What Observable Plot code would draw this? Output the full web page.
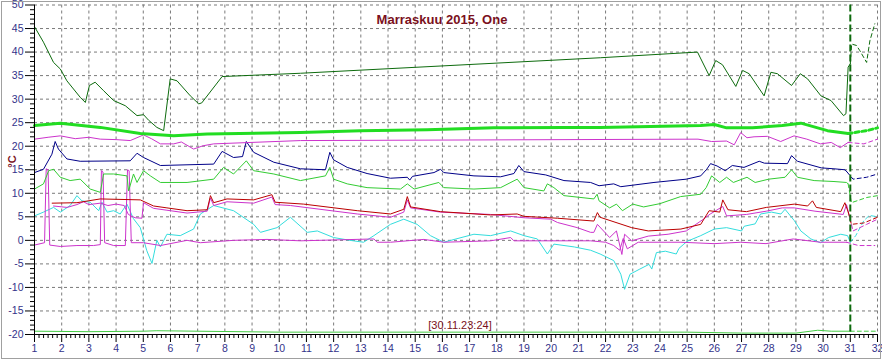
<!DOCTYPE html>
<html><head><meta charset="utf-8">
<script src="https://cdn.jsdelivr.net/npm/d3@7"></script>
<script src="https://cdn.jsdelivr.net/npm/@observablehq/plot@0.6"></script>
<style>
body{margin:0;background:#fff}
#chart svg{display:block;outline:1px solid #a0a0a0;outline-offset:-2px;background:#fff}
</style>
</head><body><div id="chart"></div>
<script>
const title = "Marraskuu 2015, One";
const stamp = "[30.11.23:24]";
const yLabel = "°C";
const xTicks = d3.range(1, 33);
const yTicks = d3.range(-20, 51, 5);
const nowDay = 31;

const darkGreen = [[1,45.4],[1.33,42.1],[1.7,37.8],[1.95,36.4],[2.19,33.9],[2.68,30.4],[2.87,29.3],[3.02,32.9],[3.23,33.6],[3.54,31.8],[3.91,29.7],[4.34,28.6],[4.77,26.5],[5.01,26.7],[5.2,25.5],[5.5,24.0],[5.75,23.3],[5.99,34.3],[6.24,33.9],[6.73,30.7],[7.04,29.0],[7.15,29.2],[7.9,34.8],[10.78,35.5],[21.82,38.8],[25.38,40.0],[25.81,35.0],[26.05,38.2],[26.3,37.3],[26.79,32.7],[27.04,36.1],[27.28,35.4],[27.83,30.7],[28.08,35.7],[28.32,35.4],[28.84,32.9],[29.16,35.4],[29.43,34.3],[29.92,30.7],[30.29,29.7],[30.75,26.5],[30.84,26.9],[30.92,36.8],[31.0,37.5],[31.05,41.7],[31.23,41.4],[31.35,40.3],[31.6,37.8],[31.72,42.4],[31.9,46.0]];
const brightGreen = [[1,24.4],[1.95,24.9],[3.42,24.0],[4.89,22.7],[6.12,22.2],[7.35,22.6],[10.78,22.9],[12.99,23.3],[15.44,23.5],[17.89,23.9],[20.47,24.0],[21.8,24.0],[25.5,24.4],[26.0,24.6],[26.45,23.9],[27.4,23.9],[28.5,24.4],[29.18,24.9],[30.16,23.3],[30.92,22.7],[31.6,23.3],[32,23.9]];
const magentaTop = [[1,21.5],[1.5,21.9],[1.95,22.2],[2.5,21.6],[3.0,21.9],[3.42,21.5],[4.0,21.4],[4.52,21.2],[5.01,22.4],[5.3,21.6],[5.63,20.5],[6.12,20.5],[6.4,20.9],[6.85,19.4],[7.2,20.1],[7.59,20.5],[10.78,21.2],[25.4,21.5],[25.9,21.0],[26.45,21.1],[26.73,20.3],[26.97,22.9],[27.2,21.8],[27.46,22.0],[27.95,22.1],[28.44,21.0],[28.93,22.2],[29.4,21.5],[29.9,20.5],[30.3,20.8],[30.63,19.7],[30.92,20.8],[31.5,20.5],[32,21.5]];
const navy = [[1,14.4],[1.33,15.1],[1.64,18.3],[1.76,21.0],[1.88,19.4],[2.19,17.3],[2.68,16.8],[4.52,16.9],[4.77,18.5],[5.01,17.6],[5.63,15.9],[7.59,16.2],[7.9,18.9],[8.32,17.6],[8.65,17.8],[8.79,21.0],[9.06,18.7],[9.8,16.6],[10.78,15.2],[11.7,15.0],[11.86,18.7],[12.0,17.1],[12.5,15.5],[13.23,14.2],[14.09,13.2],[14.71,13.4],[14.8,12.8],[14.9,13.6],[15.69,14.4],[15.93,15.1],[16.05,14.4],[17.16,13.7],[18.14,13.5],[18.63,14.2],[18.81,15.9],[19.0,14.6],[19.8,13.9],[20.47,12.7],[21.45,12.3],[21.76,11.6],[22.3,12.0],[22.56,11.4],[23.78,12.3],[24.97,13.0],[25.5,13.7],[25.72,15.1],[25.86,16.3],[26.1,15.8],[26.4,14.8],[26.66,15.9],[27.09,15.5],[27.65,16.8],[27.84,16.4],[28.69,16.3],[28.84,18.0],[29.06,16.8],[29.93,15.4],[30.4,15.2],[30.8,15.0],[30.87,14.6],[31.1,13.0],[31.6,13.4],[32,14.1]];
const lightGreen = [[1,10.9],[1.33,12.0],[1.52,14.8],[1.7,15.1],[1.95,13.4],[2.31,12.7],[2.68,13.0],[3.05,10.9],[3.42,10.2],[3.54,14.1],[3.91,14.1],[4.4,13.7],[4.46,10.5],[4.64,14.1],[4.77,12.3],[5.01,14.8],[5.26,13.7],[5.63,12.3],[6.61,12.3],[7.59,13.0],[7.95,15.5],[8.32,14.1],[8.79,16.9],[9.06,14.8],[9.8,14.1],[10.78,12.7],[11.7,13.7],[11.86,15.5],[12.0,13.0],[12.5,12.0],[13.23,11.2],[14.46,10.9],[14.71,12.0],[14.96,10.9],[15.87,12.3],[16.05,11.2],[17.16,10.9],[18.14,11.2],[18.75,13.0],[19.0,11.2],[19.73,10.5],[19.86,12.0],[20.1,11.2],[20.47,9.5],[21.57,8.8],[21.69,9.8],[21.76,8.4],[22.15,6.9],[22.4,7.7],[22.62,6.3],[23.0,7.7],[23.4,7.1],[24.0,7.8],[24.76,9.3],[25.5,9.8],[25.7,11.2],[25.9,13.7],[26.2,12.3],[26.45,13.4],[26.7,12.3],[27.2,13.4],[27.5,12.3],[28.0,13.0],[28.6,13.4],[28.84,15.0],[29.06,13.4],[29.67,12.7],[30.4,12.5],[30.86,12.3],[30.92,12.0],[31.04,8.0],[31.6,9.1],[32,9.5]];
const red = [[1.65,7.9],[2.56,8.0],[3.42,8.8],[4.89,8.6],[5.38,7.3],[5.87,6.9],[6.61,6.3],[7.35,6.5],[7.47,9.5],[7.59,8.0],[8.08,8.8],[9.06,8.6],[9.73,9.7],[9.85,8.1],[10.9,7.7],[12.87,6.3],[14.09,5.6],[14.58,6.6],[14.71,9.3],[14.83,7.1],[15.93,6.1],[17.77,5.4],[18.75,5.6],[19.0,5.1],[20.23,4.7],[21.57,4.1],[21.7,5.9],[21.8,4.9],[22.96,2.7],[23.57,2.0],[24.77,2.4],[25.5,3.4],[25.69,5.2],[25.81,6.3],[26.2,6.0],[26.31,8.6],[26.5,6.5],[27.18,6.1],[27.91,7.0],[28.94,7.7],[29.43,7.3],[29.61,8.4],[29.75,7.0],[30.65,6.1],[30.8,8.0],[30.93,5.9],[31.04,3.4],[31.5,3.7],[32,4.9]];
const magentaMid = [[1.7,7.3],[2.2,7.0],[2.56,7.6],[2.8,8.2],[3.0,7.6],[3.42,7.9],[3.7,7.4],[4.0,7.7],[4.3,7.4],[4.45,5.5],[4.7,4.8],[4.95,4.7],[5.01,8.0],[5.38,6.8],[5.87,6.4],[6.61,5.8],[7.35,6.2],[7.47,9.0],[7.59,7.4],[8.08,8.2],[9.06,7.9],[9.73,9.2],[9.85,7.6],[10.41,7.4],[12.87,5.6],[14.09,4.9],[14.58,6.0],[14.71,8.6],[14.83,6.9],[15.93,6.0],[17.77,5.5],[19.0,4.8],[19.99,4.5],[20.23,3.8],[20.96,2.7],[21.45,1.7],[21.57,1.7],[21.7,3.4],[22.15,0.6],[22.4,2.0],[22.6,-3.0],[22.7,1.3],[22.96,-0.1],[23.57,0.9],[24.3,1.3],[24.97,2.0],[25.6,4.5],[25.85,5.6],[26.31,7.2],[26.45,5.2],[27.18,5.5],[27.91,6.2],[28.5,6.9],[28.94,6.9],[29.7,6.2],[30.74,5.5],[30.86,7.6],[30.98,4.8],[31.1,2.0],[31.6,3.4],[32,4.5]];
const magentaLow = [[1,-1.0],[1.37,-0.5],[1.43,15.2],[1.5,15.0],[1.56,-1.0],[1.95,-1.3],[2.56,-1.1],[3.17,-1.1],[3.42,-0.9],[3.46,14.8],[3.52,14.5],[3.58,-0.5],[3.91,-1.1],[4.34,-1.1],[4.42,15.0],[4.48,14.8],[4.56,-0.5],[5.01,-0.5],[5.63,-1.1],[6.61,0.0],[7.1,-0.5],[8.32,0.0],[9.55,0.2],[10.78,-0.1],[13.48,0.3],[13.6,-0.4],[14.09,-0.4],[15.32,0.2],[16.05,-0.4],[17.77,-0.1],[18.51,0.6],[18.63,-0.1],[20.23,-0.1],[21.45,-0.1],[22.0,-0.4],[22.3,-1.1],[22.52,-2.1],[22.65,0.4],[22.8,-1.8],[23.2,-0.4],[24.77,-0.4],[25.99,-0.7],[26.97,-0.4],[27.9,-0.7],[28.9,0.3],[29.9,-0.4],[30.86,-0.4],[31.3,-1.1],[31.9,-1.1]];
const cyan = [[1,5.2],[1.33,6.0],[1.7,7.0],[1.95,6.0],[2.31,7.4],[2.56,9.5],[2.74,8.4],[3.05,8.1],[3.36,6.3],[3.48,8.1],[3.67,6.0],[3.91,6.3],[4.15,5.6],[4.4,7.7],[4.64,4.6],[4.89,2.7],[5.13,-2.2],[5.32,-4.9],[5.5,0.0],[5.63,-1.4],[5.87,1.3],[6.36,1.0],[6.85,2.4],[7.1,5.6],[7.59,7.4],[8.32,6.3],[9.06,3.4],[9.31,1.7],[9.92,2.7],[10.41,4.9],[11.03,1.7],[11.4,2.0],[12.0,0.6],[12.6,0.0],[13.1,-0.4],[13.48,1.0],[14.09,3.4],[14.58,4.5],[15.07,3.4],[15.56,1.0],[16.05,-0.4],[16.5,0.3],[17.16,1.3],[17.77,1.0],[18.51,2.0],[19.0,1.0],[19.49,0.3],[19.86,-2.9],[20.1,-0.8],[20.85,-1.4],[21.45,-2.1],[21.8,-2.9],[22.3,-4.3],[22.56,-7.2],[22.7,-10.4],[22.9,-7.2],[23.26,-6.1],[23.6,-5.1],[23.7,-6.1],[23.87,-2.6],[24.2,-2.3],[24.6,-2.9],[24.7,-1.7],[24.88,-0.8],[25.0,-0.2],[25.5,1.0],[26.0,2.4],[26.45,2.7],[27.0,2.0],[27.1,3.0],[27.5,3.5],[27.7,5.6],[28.1,6.0],[28.45,5.6],[28.6,6.6],[28.94,4.2],[29.18,2.0],[29.55,0.3],[29.9,-0.5],[30.2,0.6],[30.65,1.3],[30.9,1.0],[31.0,-0.4],[31.2,1.0],[31.5,4.2],[31.7,5.3],[32,5.0]];
const bottomGreen = [[1,-19.3],[3,-19.4],[5,-19.3],[5.5,-19.2],[7,-19.3],[10,-19.5],[15,-19.5],[20,-19.5],[25,-19.5],[27,-19.7],[29,-19.7],[29.8,-19.1],[30.3,-19.3],[31,-19.3],[32,-19.3]];

const series = [
  {pts: bottomGreen, color: "#44cc44", w: 1},
  {pts: cyan, color: "#33dddd", w: 1},
  {pts: magentaLow, color: "#cc33cc", w: 1},
  {pts: magentaMid, color: "#cc33cc", w: 1},
  {pts: red, color: "#bb0000", w: 1},
  {pts: lightGreen, color: "#33cc33", w: 1},
  {pts: navy, color: "#000088", w: 1},
  {pts: magentaTop, color: "#cc33cc", w: 1},
  {pts: brightGreen, color: "#22dd22", w: 3},
  {pts: darkGreen, color: "#0d6b0d", w: 1}
];

const solidPart = p => p.filter(d => d[0] <= nowDay);
const dashPart = p => {
  const s = solidPart(p);
  const a = p.filter(d => d[0] > nowDay);
  return a.length ? [s[s.length - 1], ...a] : [];
};

const tickColor = "#33338a";
const font = "Liberation Sans, Arial, sans-serif";
const minorY = d3.range(-20, 50.001, 1).filter(v => v % 5 !== 0);
const minorX = d3.range(0, 31 * 6 + 1).map(i => 1 + i / 6).filter(v => Math.abs(v - Math.round(v)) > 1e-6);

const marks = [
  Plot.ruleX(xTicks.filter(d => d > 1 && d !== nowDay), {stroke: "#7a7a7a", strokeDasharray: "3,3", strokeWidth: 1}),
  Plot.ruleY(yTicks.filter(d => d > -20), {stroke: "#7a7a7a", strokeDasharray: "3,3", strokeWidth: 1}),
];
for (const s of series) {
  marks.push(Plot.line(solidPart(s.pts), {x: d => d[0], y: d => d[1], stroke: s.color, strokeWidth: s.w, curve: "linear"}));
  const dp = dashPart(s.pts);
  if (dp.length) marks.push(Plot.line(dp, {x: d => d[0], y: d => d[1], stroke: s.color, strokeWidth: s.w, strokeDasharray: "4,3"}));
}
marks.push(
  Plot.ruleX([nowDay], {stroke: "#0d6b0d", strokeWidth: 2, strokeDasharray: "7,3"}),
  Plot.ruleX([1], {stroke: "#000"}),
  Plot.ruleY([-20], {stroke: "#000"}),
  Plot.axisY(yTicks, {anchor: "left", tickSize: 9, tickPadding: 2, stroke: "#000", fill: tickColor, fontSize: 10.5, tickFormat: d => String(d), label: null}),
  Plot.axisY(minorY, {anchor: "left", tickSize: 4, stroke: "#000", tickFormat: () => "", label: null}),
  Plot.axisX(xTicks, {anchor: "bottom", tickSize: 8, tickPadding: 2, stroke: "#000", fill: tickColor, fontSize: 10.5, tickFormat: d => String(d), label: null}),
  Plot.axisX(minorX, {anchor: "bottom", tickSize: 4, stroke: "#000", tickFormat: () => "", label: null}),
  Plot.text([title], {frameAnchor: "top", dx: -14, dy: 10, text: d => d, fill: "#7a1020", fontWeight: "bold", fontSize: 13}),
  Plot.text([stamp], {frameAnchor: "bottom", dx: 4, dy: -6, text: d => d, fill: "#7a1020", fontSize: 11}),
  Plot.text([yLabel], {frameAnchor: "left", dx: -22, dy: -2, rotate: -90, text: d => d, fill: "#7a1020", fontSize: 11, fontWeight: "bold"})
);

const chart = Plot.plot({
  width: 882,
  height: 360,
  marginLeft: 34,
  marginRight: 5,
  marginTop: 4.5,
  marginBottom: 26,
  style: {fontFamily: font, background: "#fff"},
  x: {domain: [1, 32], axis: null},
  y: {domain: [-20, 50], axis: null},
  marks
});
document.getElementById("chart").append(chart);
</script>
</body></html>
